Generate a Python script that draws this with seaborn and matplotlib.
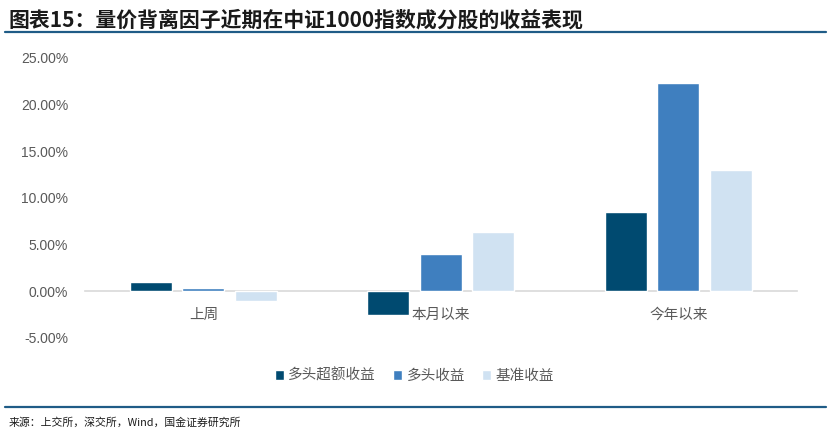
import matplotlib
matplotlib.use('Agg')
import matplotlib.pyplot as plt
import seaborn as sns
import pandas as pd
from matplotlib.lines import Line2D
from matplotlib.ticker import FuncFormatter, FixedLocator

# 数据
categories = ['上周', '本月以来', '今年以来']
series_names = ['多头超额收益', '多头收益', '基准收益']
excess = [1.04, -2.5, 8.45]
long_ret = [0.3, 4.0, 22.3]
bench = [-1.07, 6.4, 13.0]
y_ticks = [-5, 0, 5, 10, 15, 20, 25]

colors = ['#004A70', '#3F7FBF', '#D0E2F2']

rows = []
for name, vals in zip(series_names, [excess, long_ret, bench]):
    for c, v in zip(categories, vals):
        rows.append({'period': c, 'series': name, 'value': v})
df = pd.DataFrame(rows)

sns.set_style('white')
plt.rcParams['font.family'] = ['Noto Sans CJK SC', 'DejaVu Sans']
plt.rcParams['axes.unicode_minus'] = False

fig = plt.figure(figsize=(8.31, 4.36), dpi=100)
ax = fig.add_axes([0.102, 0.225, 0.857, 0.642])

sns.barplot(data=df, x='period', y='value', hue='series', order=categories,
            hue_order=series_names, palette=colors, width=0.663, gap=0.2,
            saturation=1, ax=ax, zorder=3)

ax.set_ylim(-5, 25)
ax.set_xlim(-0.5, 2.5)
ax.set_yticks(y_ticks)
ax.yaxis.set_major_formatter(FuncFormatter(lambda v, p: f'{v:.2f}%'))
ax.set_xlabel('')
ax.set_ylabel('')

for s in ['top', 'right', 'left']:
    ax.spines[s].set_visible(False)
ax.spines['bottom'].set_position(('data', 0))
ax.spines['bottom'].set_color('#D9D9D9')
ax.spines['bottom'].set_linewidth(1.2)

ax.tick_params(axis='x', which='major', length=0, pad=12, labelsize=10.5, labelcolor='#595959')
ax.xaxis.set_minor_locator(FixedLocator([-0.5, 0.5, 1.5, 2.5]))
ax.tick_params(axis='x', which='minor', length=4, color='#D9D9D9', width=1)
ax.tick_params(axis='y', length=0, labelsize=10, labelcolor='#595959', pad=12)
for t in ax.get_yticklabels():
    t.set_family(['Liberation Sans', 'DejaVu Sans'])

leg = ax.legend(loc='center', bbox_to_anchor=(0.463, -0.136), ncol=3, frameon=False,
                handlelength=0.6, handleheight=0.6, handletextpad=0.3, columnspacing=1.2,
                fontsize=10.5)
for t in leg.get_texts():
    t.set_color('#595959')

# 标题和来源
fig.text(0.01, 0.955, '图表15：量价背离因子近期在中证1000指数成分股的收益表现',
         fontsize=15, fontweight='bold', color='#1a1a1a', ha='left', va='center')
fig.add_artist(Line2D([0.006, 0.994], [0.927, 0.927], color='#1F5C87', linewidth=1.6))
fig.add_artist(Line2D([0.006, 0.994], [0.066, 0.066], color='#1F5C87', linewidth=1.6))
fig.text(0.01, 0.032, '来源：上交所，深交所，Wind，国金证券研究所',
         fontsize=7.8, color='#1a1a1a', ha='left', va='center')

fig.savefig('out.png', dpi=100)
plt.close(fig)
